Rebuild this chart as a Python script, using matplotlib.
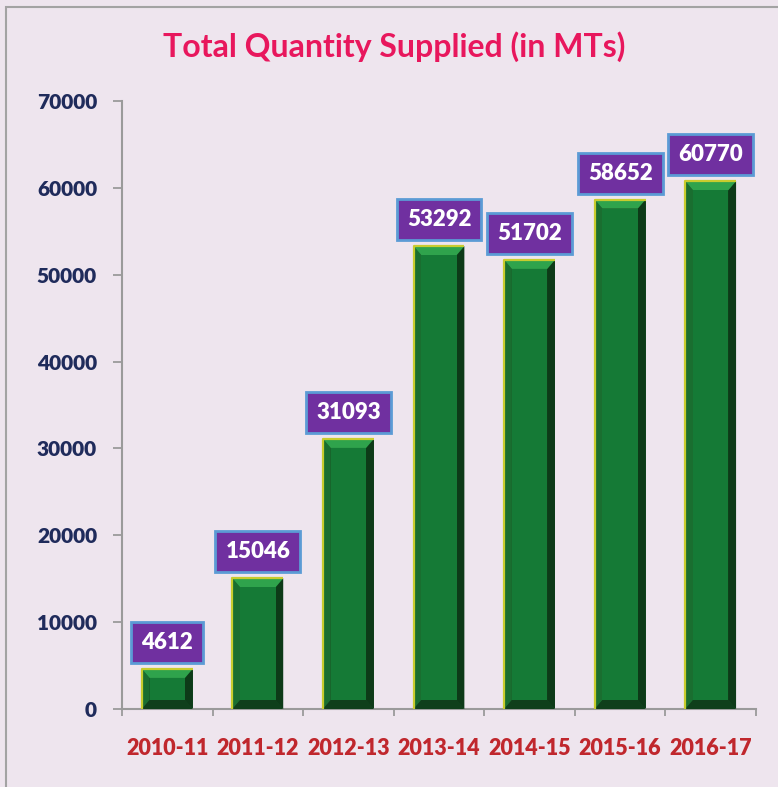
import numpy as np
import matplotlib.pyplot as plt
from matplotlib.patches import Rectangle, Polygon

# Data

years = ["2010-11", "2011-12", "2012-13", "2013-14", "2014-15", "2015-16", "2016-17"]
quantity = [4612, 15046, 31093, 53292, 51702, 58652, 60770]
yticks = [0, 10000, 20000, 30000, 40000, 50000, 60000, 70000]

# Style

bg = "#EEE5EE"
font = "Lato"
plt.rcParams["font.family"] = [font, "DejaVu Sans"]

fig = plt.figure(figsize=(7.78, 7.87), dpi=100, facecolor=bg)
ax = fig.add_axes([122 / 778, 78 / 787, (756 - 122) / 778, (709 - 101) / 787])
ax.set_facecolor(bg)

# frame around the picture
fig.patches.append(Rectangle((6 / 778, -0.1), 1.1, 1.1 - 7 / 787, transform=fig.transFigure,
                             fill=False, edgecolor="#A3A3A3", linewidth=1.5, zorder=0))

x = np.arange(len(years))
width = 0.56
ymax = 70000
px = ymax / 608.0          # data units per pixel on y
dx = 0.085                 # bevel width on x (data units)
dy = 9 * px                # bevel height on y

for xi, v in zip(x, quantity):
    x0, x1 = xi - width / 2, xi + width / 2
    # base bar
    ax.bar(xi, v, width=width, color="#124A20", edgecolor="none", zorder=2)
    # left bevel
    ax.add_patch(Polygon([(x0, 0), (x0, v), (x0 + dx, v - dy), (x0 + dx, dy)],
                         closed=True, color="#1A6E30", zorder=3, lw=0))
    # right bevel
    ax.add_patch(Polygon([(x1, 0), (x1, v), (x1 - dx, v - dy), (x1 - dx, dy)],
                         closed=True, color="#0D3A18", zorder=3, lw=0))
    # bottom bevel
    ax.add_patch(Polygon([(x0, 0), (x1, 0), (x1 - dx, dy), (x0 + dx, dy)],
                         closed=True, color="#0F3F1B", zorder=3, lw=0))
    # top bevel
    ax.add_patch(Polygon([(x0, v), (x1, v), (x1 - dx, v - dy), (x0 + dx, v - dy)],
                         closed=True, color="#2FA34C", zorder=3, lw=0))
    # face
    ax.bar(xi, max(v - 2 * dy, 0), width=width - 2 * dx, bottom=dy,
           color="#157A36", edgecolor="none", zorder=4)
    # yellow rim on left and top
    ax.plot([x0, x0, x1], [0, v, v], color="#C8CC2E", lw=1.6, zorder=5,
            solid_capstyle="butt")

    ax.annotate(f"{v}", (xi, v), xytext=(0, 11.5), textcoords="offset points",
                ha="center", va="bottom", fontsize=16, fontweight="heavy",
                color="white", zorder=6,
                bbox=dict(boxstyle="square,pad=0.45", facecolor="#7030A0",
                          edgecolor="#5B9BD5", linewidth=2))

ax.set_xlim(-0.5, len(years) - 0.5)
ax.set_ylim(0, ymax)

ax.set_yticks(yticks)
ax.set_yticklabels([str(t) for t in yticks])
ax.set_xticks(x)
ax.set_xticklabels(years)
ax.set_xticks(np.arange(len(years) + 1) - 0.5, minor=True)

ax.tick_params(axis="y", length=6.5, width=1.3, color="#9A9A9A", pad=11.5,
               labelsize=15, labelcolor="#1F2B5B")
ax.tick_params(axis="x", which="major", length=0, pad=21,
               labelsize=15.5, labelcolor="#C0272D")
ax.tick_params(axis="x", which="minor", length=5, width=1.3, color="#9A9A9A")
for lbl in ax.get_xticklabels() + ax.get_yticklabels():
    lbl.set_fontweight("heavy")

for s in ["top", "right"]:
    ax.spines[s].set_visible(False)
for s in ["left", "bottom"]:
    ax.spines[s].set_color("#9A9A9A")
    ax.spines[s].set_linewidth(1.5)

fig.text(394 / 778, 1 - 47 / 787, "Total Quantity Supplied (in MTs)",
         ha="center", va="center", fontsize=23, fontweight="bold", color="#E8175D")

fig.savefig("out.png", dpi=100, facecolor=bg)
